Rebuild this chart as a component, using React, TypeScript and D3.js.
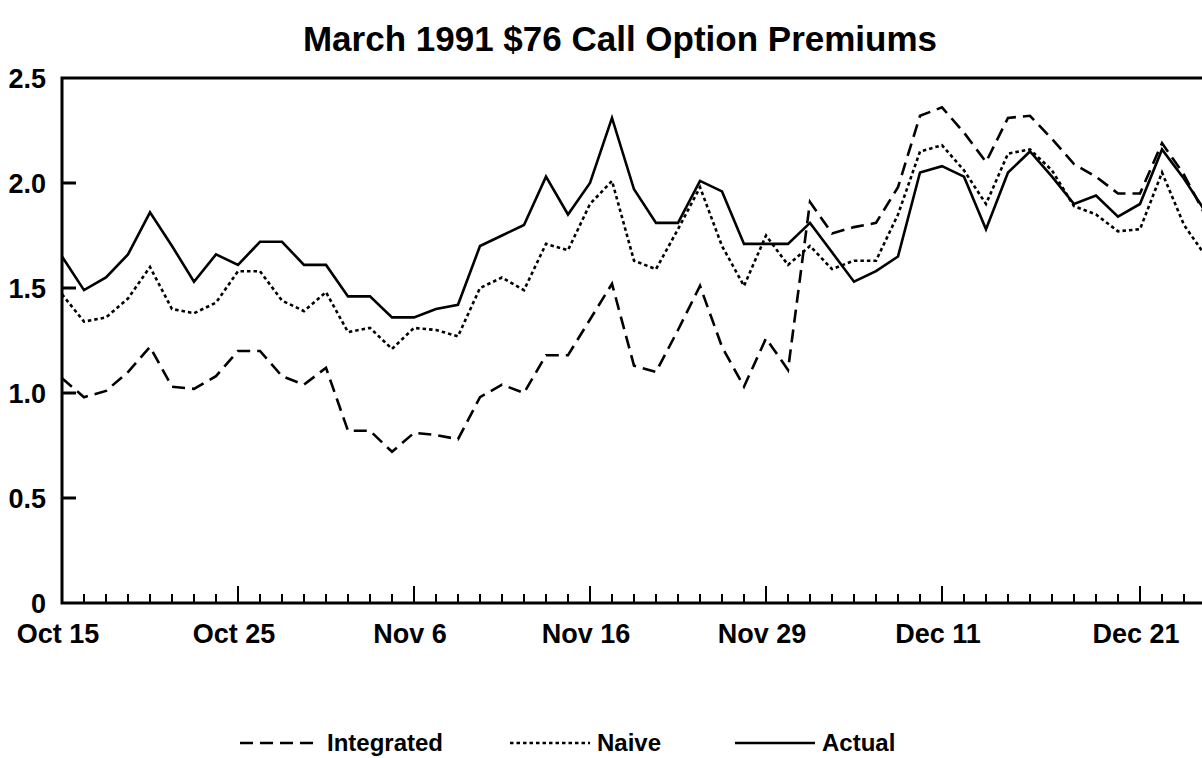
import * as d3 from 'd3';
import { useEffect, useRef } from 'react';

// trading-day index 0..52, Oct 15 1990 onward
const actual = [1.65, 1.49, 1.55, 1.66, 1.86, 1.7, 1.53, 1.66, 1.61, 1.72, 1.72, 1.61, 1.61, 1.46, 1.46, 1.36, 1.36, 1.4, 1.42, 1.7, 1.75, 1.8, 2.03, 1.85, 2.0, 2.31, 1.97, 1.81, 1.81, 2.01, 1.96, 1.71, 1.71, 1.71, 1.81, 1.67, 1.53, 1.58, 1.65, 2.05, 2.08, 2.03, 1.78, 2.05, 2.15, 2.03, 1.9, 1.94, 1.84, 1.9, 2.16, 2.02, 1.86];
const naive = [1.47, 1.34, 1.36, 1.45, 1.6, 1.4, 1.38, 1.43, 1.58, 1.58, 1.44, 1.39, 1.48, 1.29, 1.31, 1.21, 1.31, 1.3, 1.27, 1.5, 1.55, 1.49, 1.71, 1.68, 1.9, 2.01, 1.63, 1.59, 1.78, 1.98, 1.7, 1.51, 1.75, 1.61, 1.7, 1.59, 1.63, 1.63, 1.85, 2.15, 2.18, 2.06, 1.9, 2.14, 2.16, 2.06, 1.89, 1.85, 1.77, 1.78, 2.05, 1.8, 1.65];
const integrated = [1.07, 0.98, 1.01, 1.1, 1.22, 1.03, 1.02, 1.08, 1.2, 1.2, 1.08, 1.04, 1.12, 0.82, 0.82, 0.72, 0.81, 0.8, 0.78, 0.98, 1.04, 1.0, 1.18, 1.18, 1.35, 1.52, 1.13, 1.1, 1.3, 1.51, 1.22, 1.03, 1.26, 1.11, 1.91, 1.76, 1.79, 1.81, 1.98, 2.32, 2.36, 2.24, 2.1, 2.31, 2.32, 2.21, 2.09, 2.03, 1.95, 1.95, 2.19, 2.04, 1.84];

const dateLabels = ['Oct 15', 'Oct 25', 'Nov 6', 'Nov 16', 'Nov 29', 'Dec 11', 'Dec 21'];
const dateIdx = [0, 8, 16, 24, 32, 40, 49];
const yTicks = [0, 0.5, 1, 1.5, 2, 2.5];

const series = [
  { name: 'Integrated', values: integrated, dash: '13,7' },
  { name: 'Naive', values: naive, dash: '3.5,3' },
  { name: 'Actual', values: actual, dash: null },
];

const FONT = '"Liberation Sans", Arial, Helvetica, sans-serif';

export default function App() {
  const ref = useRef<SVGSVGElement | null>(null);
  useEffect(() => {
    if (!ref.current) return;
    const svg = d3.select(ref.current);
    svg.selectAll('*').remove();
    const width = 1202;
    const height = 758;
    const left = 62;
    const top = 78;
    const bottom = 603;

    const x = d3.scaleLinear().domain([0, 52]).range([left, left + 52 * 22]);
    const y = d3.scaleLinear().domain([0, 2.5]).range([bottom, top]);

    svg.attr('width', width).attr('height', height).attr('viewBox', `0 0 ${width} ${height}`);
    svg.append('rect').attr('width', width).attr('height', height).attr('fill', '#fff');

    // title
    svg
      .append('text')
      .attr('x', 620)
      .attr('y', 51)
      .attr('text-anchor', 'middle')
      .attr('font-family', FONT)
      .attr('font-weight', 'bold')
      .attr('font-size', 35)
      .text('March 1991 $76 Call Option Premiums');

    // frame
    svg
      .append('path')
      .attr('d', `M${width + 10},${top}H${left}V${bottom}H${width + 10}`)
      .attr('fill', 'none')
      .attr('stroke', '#000')
      .attr('stroke-width', 3);

    // y ticks + labels
    const yg = svg.append('g');
    yg.selectAll('line')
      .data(yTicks.filter((d) => d > 0 && d < 2.5))
      .enter()
      .append('line')
      .attr('x1', left)
      .attr('x2', left + 14)
      .attr('y1', (d) => y(d))
      .attr('y2', (d) => y(d))
      .attr('stroke', '#000')
      .attr('stroke-width', 3);
    yg.selectAll('text')
      .data(yTicks)
      .enter()
      .append('text')
      .attr('x', 46)
      .attr('y', (d) => y(d) + 10)
      .attr('text-anchor', 'end')
      .attr('font-family', FONT)
      .attr('font-weight', 'bold')
      .attr('font-size', 27)
      .text((d) => (d === 0 ? '0' : d.toFixed(1)));

    // x ticks
    const xg = svg.append('g');
    xg.selectAll('line')
      .data(d3.range(1, 53))
      .enter()
      .append('line')
      .attr('x1', (d) => x(d))
      .attr('x2', (d) => x(d))
      .attr('y1', bottom)
      .attr('y2', (d) => bottom - (dateIdx.includes(d) ? 17 : 9))
      .attr('stroke', '#000')
      .attr('stroke-width', 2);
    xg.selectAll('text')
      .data(dateIdx)
      .enter()
      .append('text')
      .attr('x', (d) => x(d) - 4)
      .attr('y', 643)
      .attr('text-anchor', 'middle')
      .attr('font-family', FONT)
      .attr('font-weight', 'bold')
      .attr('font-size', 27)
      .text((d, i) => dateLabels[i]);

    // lines
    const line = d3
      .line<number>()
      .x((d, i) => x(i))
      .y((d) => y(d));
    series.forEach((s) => {
      svg
        .append('path')
        .datum(s.values)
        .attr('d', line)
        .attr('fill', 'none')
        .attr('stroke', '#000')
        .attr('stroke-width', 2.6)
        .attr('stroke-linejoin', 'miter')
        .attr('stroke-dasharray', s.dash);
    });

    // legend
    const legendX = [240, 510, 735];
    const lg = svg.append('g');
    series.forEach((s, i) => {
      lg.append('line')
        .attr('x1', legendX[i])
        .attr('x2', legendX[i] + 80)
        .attr('y1', 743)
        .attr('y2', 743)
        .attr('stroke', '#000')
        .attr('stroke-width', 2.6)
        .attr('stroke-dasharray', s.dash);
      lg.append('text')
        .attr('x', legendX[i] + 87)
        .attr('y', 751)
        .attr('font-family', FONT)
        .attr('font-weight', 'bold')
        .attr('font-size', 24)
        .text(s.name);
    });
  }, []);

  return <svg ref={ref} style={{ position: 'absolute', left: 0, top: 0, display: 'block' }} />;
}
